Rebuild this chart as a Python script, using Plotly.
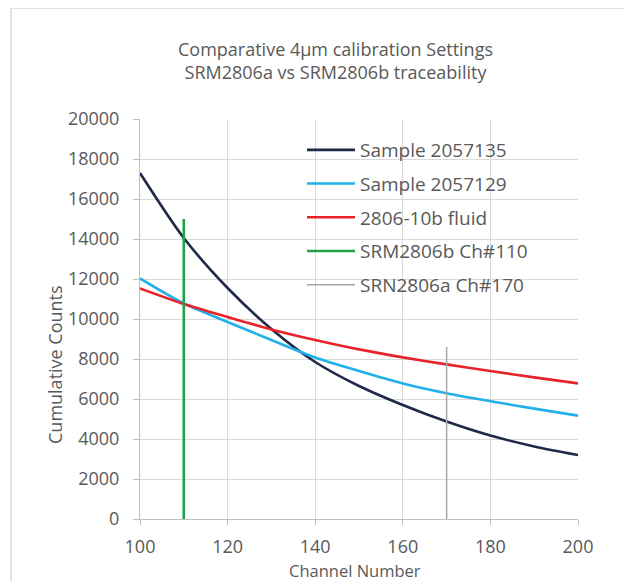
import plotly.graph_objects as go

# ---- data ----
channels = [100, 110, 120, 130, 140, 150, 160, 170, 180, 190, 200]
sample_2057135 = [17300, 14050, 11550, 9500, 7850, 6650, 5700, 4870, 4170, 3630, 3200]
sample_2057129 = [12030, 10780, 9850, 8950, 8070, 7400, 6780, 6290, 5890, 5520, 5170]
fluid_2806_10b = [11530, 10750, 10100, 9480, 8950, 8480, 8080, 7730, 7400, 7080, 6780]
srm2806b_x = [110, 110]
srm2806b_y = [0, 15000]
srn2806a_x = [170, 170]
srn2806a_y = [0, 8600]

x_ticks = [100, 120, 140, 160, 180, 200]
y_ticks = [0, 2000, 4000, 6000, 8000, 10000, 12000, 14000, 16000, 18000, 20000]

FONT = "Open Sans"
TXT = "#595959"

fig = go.Figure()
series = [
    ("Sample 2057135", channels, sample_2057135, "#1F2A48", 2.6),
    ("Sample 2057129", channels, sample_2057129, "#1EB1EA", 2.6),
    ("2806-10b fluid", channels, fluid_2806_10b, "#E8232B", 2.6),
    ("SRM2806b Ch#110", srm2806b_x, srm2806b_y, "#1FA24A", 2.6),
    ("SRN2806a Ch#170", srn2806a_x, srn2806a_y, "#A6A6A6", 1.5),
]
for name, xs, ys, col, w in series:
    fig.add_trace(go.Scatter(
        x=xs, y=ys, mode="lines", name=name, legendgroup=name,
        line=dict(color=col, width=w, shape="spline", smoothing=0.8),
    ))

# The page body has an 8px margin; work in window pixels and compensate.
OFF = 8
W, H = 632 - OFF, 581 - OFF
PL, PR, PT, PB = 140, 578, 119, 519  # plot area in window pixels
L, R, T, B = PL - OFF, W - (PR - OFF), PT - OFF, H - (PB - OFF)
pw, ph = PR - PL, PB - PT

def px_x(p):
    return (p - PL) / pw

def px_y(p):
    return (PB - p) / ph

fig.update_layout(
    width=W, height=H,
    margin=dict(l=L, r=R, t=T, b=B),
    paper_bgcolor="white", plot_bgcolor="white",
    font=dict(family=FONT, color=TXT, size=18),
    title=dict(
        text="Comparative 4µm calibration Settings<br>SRM2806a vs SRM2806b traceability",
        x=px_x(335.5), xref="paper", xanchor="center",
        y=1 - (56 - OFF) / H, yref="container", yanchor="middle",
        font=dict(family=FONT, size=18, color=TXT),
    ),
    showlegend=True,
    legend=dict(
        x=px_x(302), y=px_y(131), xanchor="left", yanchor="top",
        bgcolor="rgba(0,0,0,0)", font=dict(family=FONT, size=19, color=TXT),
        tracegroupgap=6, traceorder="grouped", itemwidth=48,
    ),
    xaxis=dict(
        range=[100, 200], tickvals=x_ticks, showgrid=True, gridcolor="#D9D9D9", gridwidth=1,
        showline=True, linecolor="#BFBFBF", linewidth=1,
        ticks="outside", ticklen=5, tickcolor="#BFBFBF", ticklabelstandoff=6,
        tickfont=dict(family=FONT, size=18, color=TXT), zeroline=False,
        fixedrange=True,
    ),
    yaxis=dict(
        range=[0, 20000], tickvals=y_ticks, tickformat="d",
        showgrid=True, gridcolor="#D9D9D9", gridwidth=1,
        showline=True, linecolor="#BFBFBF", linewidth=1,
        ticks="outside", ticklen=6, tickcolor="#BFBFBF", ticklabelstandoff=10,
        tickfont=dict(family=FONT, size=18, color=TXT), zeroline=False,
        fixedrange=True,
    ),
    shapes=[dict(
        type="rect", xref="paper", yref="paper",
        x0=px_x(11), x1=px_x(626), y0=px_y(600), y1=px_y(8),
        line=dict(color="#D9D9D9", width=1.5), fillcolor="rgba(0,0,0,0)", layer="below",
    )],
    annotations=[
        dict(text="Cumulative Counts", xref="paper", yref="paper",
             x=px_x(55), y=px_y(365), textangle=-90, showarrow=False,
             xanchor="center", yanchor="middle",
             font=dict(family=FONT, size=18, color=TXT)),
        dict(text="Channel Number", xref="paper", yref="paper",
             x=px_x(355), y=px_y(570), showarrow=False,
             xanchor="center", yanchor="middle",
             font=dict(family=FONT, size=16.5, color=TXT)),
    ],
)

fig.write_html("out.html", config={"displayModeBar": False})
